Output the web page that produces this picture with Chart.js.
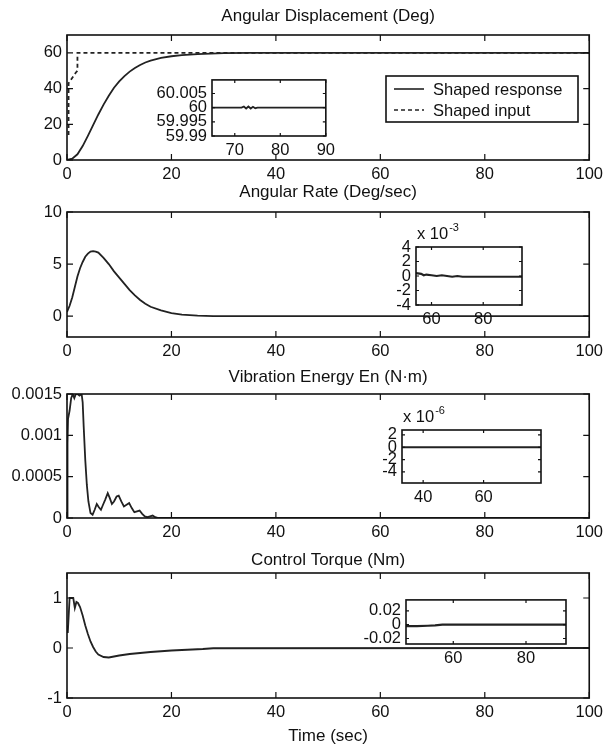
<!DOCTYPE html>
<html>
<head>
<meta charset="utf-8">
<title>Shaped response</title>
<script src="https://cdn.jsdelivr.net/npm/chart.js@4.4.1/dist/chart.umd.min.js"></script>
<style>
    html, body { margin: 0; padding: 0; background: #fff; }
    #figure { position: relative; width: 608px; height: 749px; overflow: hidden; }
    #figure canvas { position: absolute; }
</style>
</head>
<body>
<div id="figure"></div>
<script>
// ============================================
// Data
// ============================================

const timeTicks = [0, 20, 40, 60, 80, 100];

// Angular displacement (deg)
const dispTime = [0, 1, 2, 3, 4, 5, 6, 7, 8, 9, 10, 11, 12, 13, 14, 15, 16, 18, 20, 22, 25, 30, 35, 100];
const dispResponse = [0, 0.8, 3.2, 7.8, 13.5, 19.5, 25.5, 31, 36, 40.5, 44, 47, 49.5, 51.5, 53.2, 54.6, 55.7, 57.2, 58.1, 58.7, 59.3, 59.8, 60, 60];
const inputTime = [0.3, 0.3, 1.7, 2.0, 2.0, 100];
const inputValues = [14, 43, 49, 50, 60, 60];
const dispTicks = [0, 20, 40, 60];

const dispZoomTime = [65, 71.5, 72, 72.5, 73, 73.5, 74, 74.5, 75, 90];
const dispZoomValues = [60, 60, 60.0004, 59.9997, 60.0004, 59.9997, 60.0003, 59.9998, 60, 60];
const dispZoomXTicks = [70, 80, 90];
const dispZoomYTicks = [59.99, 59.995, 60, 60.005];

// Angular rate (deg/sec)
const rateTime = [0, 0.5, 1, 1.5, 2, 2.5, 3, 3.5, 4, 4.5, 5, 5.5, 6, 7, 8, 9, 10, 11, 12, 13, 14, 15, 16, 18, 20, 22, 25, 28, 100];
const rateValues = [0.4, 1.0, 1.8, 2.8, 3.8, 4.6, 5.2, 5.7, 6.0, 6.2, 6.25, 6.2, 6.1, 5.6, 5.0, 4.3, 3.7, 3.1, 2.5, 2.0, 1.55, 1.2, 0.9, 0.55, 0.3, 0.15, 0.05, 0, 0];
const rateTicks = [0, 5, 10];

const rateZoomTime = [54, 56, 57, 58, 60, 62, 64, 66, 68, 70, 72, 95];
const rateZoomValues = [0.0004, 0.0003, 0.0001, 0.0002, 0.0001, 0, 0.0001, 0, -0.0001, 0, -0.0001, -0.0001];
const rateZoomXTicks = [60, 80];
const rateZoomYTicks = [-0.004, -0.002, 0, 0.002, 0.004];

// Vibration energy (N·m)
const energyTime = [0, 0.1, 0.2, 0.5, 0.8, 1.1, 1.4, 1.7, 2.0, 2.4, 2.8, 3.0, 3.2, 3.5, 3.8, 4.1, 4.5, 4.9, 5.3, 5.7, 6.1, 6.5, 6.9, 7.3, 7.8, 8.2, 8.6, 9.0, 9.5, 9.9, 10.4, 10.9, 11.4, 11.9, 12.4, 12.9, 13.4, 13.9, 14.4, 14.9, 15.4, 15.9, 16.4, 16.9, 17.5, 18, 100];
const energyValues = [0, 0.0009, 0.0012, 0.0013, 0.00145, 0.0015, 0.00145, 0.0015, 0.0015, 0.00148, 0.0015, 0.0014, 0.0011, 0.0007, 0.0004, 0.0002, 0.00006, 0.00004, 0.0001, 0.00017, 0.00013, 0.0001, 0.00016, 0.00022, 0.0003, 0.00024, 0.00017, 0.0002, 0.00026, 0.00027, 0.0002, 0.00014, 0.00016, 0.00018, 0.00012, 0.00007, 0.00008, 0.00009, 0.00005, 0.00002, 0.00001, 0.00002, 0.00003, 0.00001, 0, 0, 0];
const energyTicks = [0, 0.0005, 0.001, 0.0015];

const energyZoomTime = [33, 79];
const energyZoomValues = [0, 0];
const energyZoomXTicks = [40, 60];
const energyZoomYTicks = [-0.000004, -0.000002, 0, 0.000002];

// Control torque (Nm)
const torqueTime = [0, 0.15, 0.3, 0.5, 1.2, 1.5, 1.8, 2.1, 2.5, 3.0, 3.5, 4.0, 4.5, 5.0, 5.5, 6.0, 7.0, 8.0, 9.0, 10, 12, 14, 16, 18, 20, 23, 26, 28, 100];
const torqueValues = [0.45, 0.3, 0.6, 1.0, 1.0, 0.8, 0.92, 0.9, 0.82, 0.65, 0.45, 0.28, 0.13, 0.02, -0.07, -0.13, -0.18, -0.19, -0.17, -0.15, -0.12, -0.1, -0.08, -0.065, -0.05, -0.035, -0.02, -0.005, 0];
const torqueTicks = [-1, 0, 1];

const torqueZoomTime = [47, 50, 53, 55, 57, 60, 91];
const torqueZoomValues = [-0.002, -0.002, -0.0015, -0.001, 0, 0, 0];
const torqueZoomXTicks = [60, 80];
const torqueZoomYTicks = [-0.02, 0, 0.02];

// ============================================
// Styling + plugins
// ============================================

const INK = '#111';
const LINE = '#222';
const FAMILY = "'Liberation Sans', Arial, sans-serif";
const FONT = { family: FAMILY, size: 16.5, lineHeight: 1.2 };

// White plot box, black frame and inward ticks on all four sides
const boxAxes = {
    id: 'boxAxes',
    beforeDraw(chart) {
        const a = chart.chartArea;
        const ctx = chart.ctx;
        ctx.save();
        ctx.fillStyle = '#fff';
        ctx.fillRect(a.left, a.top, a.right - a.left, a.bottom - a.top);
        ctx.restore();
    },
    afterDraw(chart, args, opts) {
        const { ctx, chartArea: a, scales: { x, y } } = chart;
        const len = opts.tickLength || 5;
        ctx.save();
        ctx.strokeStyle = INK;
        ctx.lineWidth = 1.2;
        ctx.beginPath();
        x.ticks.forEach(t => {
            const px = x.getPixelForValue(t.value);
            ctx.moveTo(px, a.bottom); ctx.lineTo(px, a.bottom - len);
            ctx.moveTo(px, a.top); ctx.lineTo(px, a.top + len);
        });
        y.ticks.forEach(t => {
            const py = y.getPixelForValue(t.value);
            ctx.moveTo(a.left, py); ctx.lineTo(a.left + len, py);
            ctx.moveTo(a.right, py); ctx.lineTo(a.right - len, py);
        });
        ctx.stroke();
        ctx.lineWidth = 1.6;
        ctx.strokeRect(a.left, a.top, a.right - a.left, a.bottom - a.top);
        ctx.restore();
    }
};

// Exponent label ("x 10^-3") and the boxed legend
const figureText = {
    id: 'figureText',
    afterDraw(chart, args, opts) {
        const { ctx, chartArea: a } = chart;
        ctx.save();
        ctx.fillStyle = INK;
        if (opts.power) {
            ctx.font = `16.5px ${FAMILY}`;
            ctx.textBaseline = 'alphabetic';
            const base = 'x 10';
            const bx = a.left + 1;
            const by = a.top - 8;
            ctx.fillText(base, bx, by);
            const w = ctx.measureText(base).width;
            ctx.font = `11px ${FAMILY}`;
            ctx.fillText(opts.power, bx + w + 1, by - 8);
        }
        if (opts.legend) {
            const L = opts.legend;
            const lx = a.left + L.left;
            const ly = a.top + L.top;
            ctx.fillStyle = '#fff';
            ctx.fillRect(lx, ly, L.width, L.height);
            ctx.strokeStyle = INK;
            ctx.lineWidth = 1.6;
            ctx.strokeRect(lx, ly, L.width, L.height);
            ctx.font = `16.5px ${FAMILY}`;
            ctx.textBaseline = 'middle';
            chart.data.datasets.forEach((ds, i) => {
                const ry = ly + L.firstRow + i * L.rowGap;
                ctx.strokeStyle = LINE;
                ctx.lineWidth = 1.6;
                ctx.setLineDash(ds.borderDash || []);
                ctx.beginPath();
                ctx.moveTo(lx + 8, ry);
                ctx.lineTo(lx + 38, ry);
                ctx.stroke();
                ctx.setLineDash([]);
                ctx.fillStyle = INK;
                ctx.fillText(ds.label, lx + 47, ry + 1);
            });
        }
        ctx.restore();
    }
};

Chart.register(boxAxes, figureText);

const figure = document.getElementById('figure');

function addAxes(spec) {
    const canvas = document.createElement('canvas');
    canvas.width = spec.width;
    canvas.height = spec.height;
    canvas.style.left = spec.left + 'px';
    canvas.style.top = spec.top + 'px';
    figure.appendChild(canvas);

    const tickFmt = spec.yFormat || (v => String(v));

    return new Chart(canvas, {
        type: 'line',
        data: {
            datasets: spec.series.map(s => ({
                label: s.label || '',
                data: s.x.map((t, i) => ({ x: t, y: s.y[i] })),
                borderColor: LINE,
                borderWidth: s.lineWidth || 1.8,
                borderDash: s.dash || [],
                pointRadius: 0,
                tension: 0,
                fill: false
            }))
        },
        options: {
            responsive: false,
            animation: false,
            devicePixelRatio: 1,
            events: [],
            layout: { padding: spec.padding },
            plugins: {
                legend: { display: false },
                tooltip: { enabled: false },
                title: spec.title ? {
                    display: true,
                    text: spec.title,
                    fullSize: false,
                    color: INK,
                    font: { family: FAMILY, size: 17, weight: 'normal', lineHeight: '20px' },
                    padding: { top: 0, bottom: spec.titleGap }
                } : { display: false },
                boxAxes: { tickLength: spec.tickLength || 6 },
                figureText: { power: spec.power, legend: spec.legend }
            },
            scales: {
                x: {
                    type: 'linear',
                    min: spec.xMin,
                    max: spec.xMax,
                    afterBuildTicks: s => { s.ticks = spec.xTicks.map(v => ({ value: v })); },
                    afterFit: s => { s.height = spec.xAxisHeight; },
                    grid: { display: false, drawTicks: false },
                    border: { display: false },
                    ticks: { color: INK, font: FONT, padding: 5, maxRotation: 0, autoSkip: false, callback: v => String(v) },
                    title: spec.xTitle ? {
                        display: true, text: spec.xTitle, color: INK,
                        font: { family: FAMILY, size: 17, lineHeight: 1.2 },
                        padding: { top: 0, bottom: 1 }
                    } : { display: false }
                },
                y: {
                    type: 'linear',
                    min: spec.yMin,
                    max: spec.yMax,
                    afterBuildTicks: s => { s.ticks = spec.yTicks.map(v => ({ value: v })); },
                    afterFit: s => { s.width = spec.yAxisWidth; },
                    grid: { display: false, drawTicks: false },
                    border: { display: false },
                    ticks: { color: INK, font: FONT, padding: 5, autoSkip: false, callback: v => tickFmt(v) }
                }
            }
        }
    });
}

// ============================================
// Main panels
// ============================================

addAxes({
    left: 0, top: 6, width: 608, height: 184,
    padding: { top: 0, right: 15, bottom: 0, left: 0 },
    title: 'Angular Displacement (Deg)', titleGap: 9,
    yAxisWidth: 67, xAxisHeight: 30,
    xMin: 0, xMax: 100, xTicks: timeTicks,
    yMin: 0, yMax: 70, yTicks: dispTicks,
    series: [
        { label: 'Shaped response', x: dispTime, y: dispResponse },
        { label: 'Shaped input', x: inputTime, y: inputValues, dash: [4, 3] }
    ],
    legend: { left: 319, top: 41, width: 192, height: 46, firstRow: 13, rowGap: 21 }
});

addAxes({
    left: 0, top: 182, width: 608, height: 185,
    padding: { top: 0, right: 15, bottom: 0, left: 0 },
    title: 'Angular Rate (Deg/sec)', titleGap: 10,
    yAxisWidth: 67, xAxisHeight: 30,
    xMin: 0, xMax: 100, xTicks: timeTicks,
    yMin: -2, yMax: 10, yTicks: rateTicks,
    series: [{ x: rateTime, y: rateValues }]
});

addAxes({
    left: 0, top: 367, width: 608, height: 181,
    padding: { top: 0, right: 15, bottom: 0, left: 0 },
    title: 'Vibration Energy En (N·m)', titleGap: 7,
    yAxisWidth: 67, xAxisHeight: 30,
    xMin: 0, xMax: 100, xTicks: timeTicks,
    yMin: 0, yMax: 0.0015, yTicks: energyTicks,
    series: [{ x: energyTime, y: energyValues }]
});

addAxes({
    left: 0, top: 550, width: 608, height: 198,
    padding: { top: 0, right: 15, bottom: 0, left: 0 },
    title: 'Control Torque (Nm)', titleGap: 3,
    yAxisWidth: 67, xAxisHeight: 50, xTitle: 'Time (sec)',
    xMin: 0, xMax: 100, xTicks: timeTicks,
    yMin: -1, yMax: 1.5, yTicks: torqueTicks,
    series: [{ x: torqueTime, y: torqueValues }]
});

// ============================================
// Zoomed insets
// ============================================

addAxes({
    left: 148, top: 65, width: 192, height: 93,
    padding: { top: 2, right: 2, bottom: 0, left: 0 },
    yAxisWidth: 64, xAxisHeight: 22, tickLength: 3,
    xMin: 65, xMax: 90, xTicks: dispZoomXTicks,
    yMin: 59.99, yMax: 60.0098, yTicks: dispZoomYTicks,
    series: [{ x: dispZoomTime, y: dispZoomValues }]
});

addAxes({
    left: 392, top: 219, width: 132, height: 108,
    padding: { top: 28, right: 2, bottom: 0, left: 0 },
    yAxisWidth: 24, xAxisHeight: 22, tickLength: 3,
    xMin: 54, xMax: 95, xTicks: rateZoomXTicks,
    yMin: -0.004, yMax: 0.004, yTicks: rateZoomYTicks,
    yFormat: v => String(Math.round(v * 1e3)),
    power: '-3',
    series: [{ x: rateZoomTime, y: rateZoomValues, lineWidth: 2.2 }]
});

addAxes({
    left: 378, top: 402, width: 165, height: 103,
    padding: { top: 28, right: 2, bottom: 0, left: 0 },
    yAxisWidth: 24, xAxisHeight: 22, tickLength: 3,
    xMin: 33, xMax: 79, xTicks: energyZoomXTicks,
    yMin: -0.0000058, yMax: 0.0000028, yTicks: energyZoomYTicks,
    yFormat: v => String(Math.round(v * 1e6)),
    power: '-6',
    series: [{ x: energyZoomTime, y: energyZoomValues }]
});

addAxes({
    left: 358, top: 585, width: 210, height: 81,
    padding: { top: 4, right: 2, bottom: 0, left: 0 },
    yAxisWidth: 48, xAxisHeight: 22, tickLength: 3,
    xMin: 47, xMax: 91, xTicks: torqueZoomXTicks,
    yMin: -0.028, yMax: 0.036, yTicks: torqueZoomYTicks,
    series: [{ x: torqueZoomTime, y: torqueZoomValues, lineWidth: 2.2 }]
});
</script>
</body>
</html>
